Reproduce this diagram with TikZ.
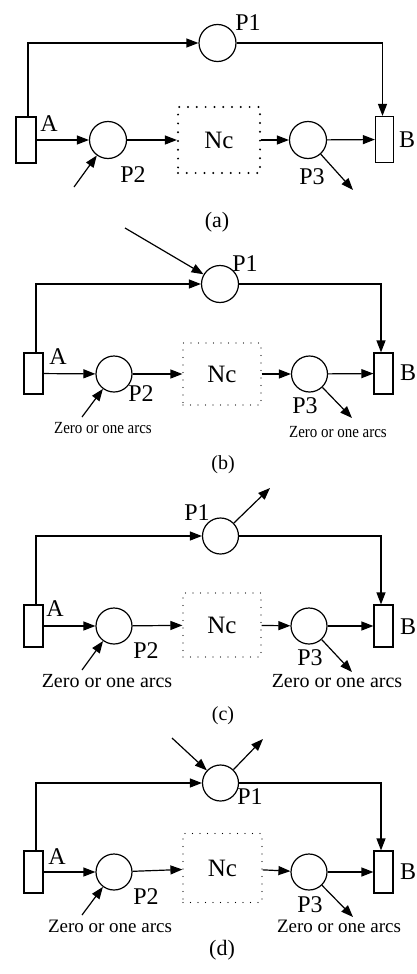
\documentclass[tikz,border=0pt]{standalone}
\usepackage{fontspec}
\setmainfont{Liberation Serif}
\usetikzlibrary{arrows.meta}
\begin{document}
\begin{tikzpicture}[x=1pt,y=-1pt,
  every node/.style={font=\fontsize{24}{26}\selectfont},
  place/.style={draw,circle,minimum size=37pt,inner sep=0pt,line width=1.2pt},
  trans/.style={draw,rectangle,minimum width=19pt,minimum height=42pt,inner sep=0pt,line width=1.2pt},
  ncbox/.style={rectangle,inner sep=0pt,font=\fontsize{25}{27}\selectfont},
  ncdotsA/.style={draw,line width=2.2pt,dash pattern=on 0pt off 8.8pt,line cap=round},
  ncdots/.style={draw,line width=1.2pt,dash pattern=on 0pt off 7.5pt,line cap=round},
  arc/.style={line width=1.2pt,-{Triangle[length=12pt,width=9pt]}},
  lbl/.style={inner sep=0pt},
  zero/.style={inner sep=0pt,font=\fontsize{20}{22}\selectfont},
  zerosmall/.style={inner sep=0pt,font=\fontsize{17}{19}\selectfont,xscale=0.88},
  captext/.style={inner sep=0pt,font=\fontsize{20}{22}\selectfont}]
\useasboundingbox (0,0) rectangle (416,974);

% ---------------- (a) ----------------
\node[trans,minimum width=20pt,minimum height=46pt] (aA) at (26,140) {};
\node[trans,minimum width=18pt,minimum height=46pt] (aB) at (384.5,139.5) {};
\node[place] (aP1) at (217.5,43) {};
\node[place] (aP2) at (108,140) {};
\node[place] (aP3) at (308,140) {};
\node[ncbox,ncdotsA,minimum width=82pt,minimum height=66pt] (aNc) at (219,140) {Nc};
\node[lbl] (aP1l) at (248,23) {P1};
\node[lbl] (aAl) at (49,124) {A};
\node[lbl] (aP2l) at (133,175) {P2};
\node[lbl] (aP3l) at (312,177) {P3};
\node[lbl] (aBl) at (407,140) {B};
\coordinate (ain2) at (74,187);
\coordinate (aout3) at (353,190);
\draw[arc] ([xshift=2pt]aA.north) |- (aP1);
\draw[arc] (aP1) -| ([xshift=-2pt]aB.north);
\draw[arc] (aA) -- (aP2);
\draw[arc] (aP2) -- (aNc);
\draw[arc] (aNc) -- (aP3);
\draw[arc] (aP3) -- (aB);
\draw[arc] (ain2) -- (aP2);
\draw[arc] (aP3) -- (aout3);
\node[captext,font=\fontsize{22}{24}\selectfont] (acap) at (217,222) {(a)};

% ---------------- (b) ----------------
\node[trans,minimum height=41pt] (bA) at (33.5,373.5) {};
\node[trans,minimum height=41pt] (bB) at (383.5,373.5) {};
\node[place] (bP1) at (220,284) {};
\node[place,minimum size=36pt] (bP2) at (114,374) {};
\node[place,minimum size=36pt] (bP3) at (309.5,374) {};
\node[ncbox,ncdots,minimum width=78pt,minimum height=62pt] (bNc) at (222,374) {Nc};
\node[lbl] (bP1l) at (245,264) {P1};
\node[lbl] (bAl) at (58,357) {A};
\node[lbl] (bP2l) at (141,394) {P2};
\node[lbl] (bP3l) at (305,406) {P3};
\node[lbl] (bBl) at (408,373) {B};
\node[zerosmall] (bz2) at (103,428) {Zero or one arcs};
\node[zerosmall] (bz3) at (338,432) {Zero or one arcs};
\coordinate (bin1) at (125,228);
\coordinate (bin2) at (82,417);
\coordinate (bout3) at (352,418);
\draw[arc] ([xshift=2.5pt]bA.north) |- (bP1);
\draw[arc] (bP1) -| ([xshift=-2.5pt]bB.north);
\draw[arc] (bA) -- (bP2);
\draw[arc] (bP2) -- (bNc);
\draw[arc] (bNc) -- (bP3);
\draw[arc] (bP3) -- (bB);
\draw[arc] (bin1) -- (bP1);
\draw[arc] (bin2) -- (bP2);
\draw[arc] (bP3) -- (bout3);
\node[captext] (bcap) at (223,465) {(b)};

% ---------------- (c) ----------------
\node[trans] (cA) at (33.5,626) {};
\node[trans] (cB) at (383.5,626) {};
\node[place,minimum size=36pt] (cP1) at (220.5,536) {};
\node[place,minimum size=36pt] (cP2) at (114,626) {};
\node[place,minimum size=36pt] (cP3) at (309,626) {};
\node[ncbox,ncdots,minimum width=78pt,minimum height=64pt] (cNc) at (222,625) {Nc};
\node[lbl] (cP1l) at (197,513) {P1};
\node[lbl] (cAl) at (55,609) {A};
\node[lbl] (cP2l) at (146,651) {P2};
\node[lbl] (cP3l) at (310,658) {P3};
\node[lbl] (cBl) at (408,627) {B};
\node[zero] (cz2) at (107,681) {Zero or one arcs};
\node[zero] (cz3) at (337,681) {Zero or one arcs};
\coordinate (cout1) at (270,488);
\coordinate (cin2) at (82,670);
\coordinate (cout3) at (352,672);
\draw[arc] ([xshift=2.5pt]cA.north) |- (cP1);
\draw[arc] (cP1) -| ([xshift=-2.5pt]cB.north);
\draw[arc] (cA) -- (cP2);
\draw[arc] (cP2) -- (cNc);
\draw[arc] (cNc) -- (cP3);
\draw[arc] (cP3) -- (cB);
\draw[arc] (cP1) -- (cout1);
\draw[arc] (cin2) -- (cP2);
\draw[arc] (cP3) -- (cout3);
\node[captext] (ccap) at (223,716) {(c)};

% ---------------- (d) ----------------
\node[trans] (dA) at (33.5,872) {};
\node[trans] (dB) at (383.5,872) {};
\node[place,minimum size=36pt] (dP1) at (220.5,783) {};
\node[place,minimum size=36pt] (dP2) at (114,872) {};
\node[place,minimum size=36pt] (dP3) at (309,872) {};
\node[ncbox,ncdots,minimum width=79pt,minimum height=69pt] (dNc) at (222.5,868) {Nc};
\node[lbl] (dP1l) at (250,797) {P1};
\node[lbl] (dAl) at (57,857) {A};
\node[lbl] (dP2l) at (146,897) {P2};
\node[lbl] (dP3l) at (310,905) {P3};
\node[lbl] (dBl) at (408,872) {B};
\node[zero,font=\fontsize{19}{21}\selectfont] (dz2) at (110,926) {Zero or one arcs};
\node[zero,font=\fontsize{19}{21}\selectfont] (dz3) at (339,926) {Zero or one arcs};
\coordinate (din1) at (172,738);
\coordinate (dout1) at (263,739);
\coordinate (din2) at (82,915);
\coordinate (dout3) at (353,917);
\draw[arc] ([xshift=2.5pt]dA.north) |- (dP1);
\draw[arc] (dP1) -| ([xshift=-2.5pt]dB.north);
\draw[arc] (dA) -- (dP2);
\draw[arc] (dP2) -- (dNc);
\draw[arc] (dNc) -- (dP3);
\draw[arc] (dP3) -- (dB);
\draw[arc] (din1) -- (dP1);
\draw[arc] (dP1) -- (dout1);
\draw[arc] (din2) -- (dP2);
\draw[arc] (dP3) -- (dout3);
\node[captext,font=\fontsize{22}{24}\selectfont] (dcap) at (222,950) {(d)};
\end{tikzpicture}
\end{document}
